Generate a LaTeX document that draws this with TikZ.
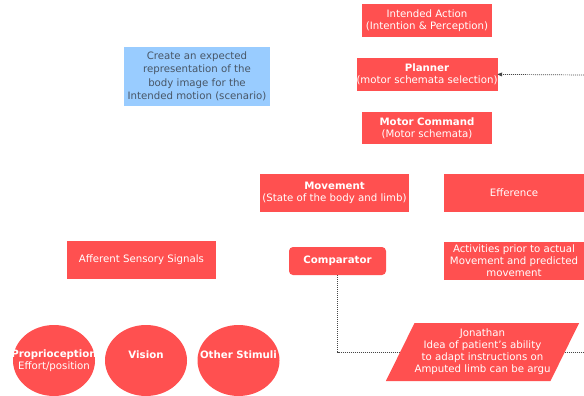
\documentclass[tikz,border=0pt]{standalone}
\usepackage{fontspec}
\setmainfont{DejaVu Sans}
\usepackage{tikz}
\usetikzlibrary{calc}
\usetikzlibrary{arrows,shapes,positioning}
\definecolor{boxred}{RGB}{255,80,80}
\definecolor{boxblue}{RGB}{153,204,255}
\definecolor{bluetext}{RGB}{72,86,102}
\definecolor{dotgray}{RGB}{70,70,70}

\begin{document}
\begin{tikzpicture}[x=1pt,y=-1pt,>=stealth',
    redbox/.style={fill=boxred,text=white,align=center,inner sep=0pt,
      font=\fontsize{10.2}{12}\selectfont},
    blob/.style={fill=boxred,ellipse,inner sep=0pt,minimum width=82pt,minimum height=71pt},
    blobtext/.style={text=white,align=center,inner sep=0pt,font=\fontsize{10.2}{12}\selectfont},
    dotline/.style={dotgray,dash pattern=on 1pt off 1pt,line width=.7pt}]

      \useasboundingbox (0,0) rectangle (584,396);

      % the column on the right
      \node[redbox,minimum width=130pt,minimum height=33pt] (act) at (427,21) {Intended Action\\(Intention \& Perception)};
      \node[redbox,minimum width=140pt,minimum height=33pt] (plan) [below=20pt of act] {\textbf{Planner}\\(motor schemata selection)};
      \node[redbox,minimum width=130pt,minimum height=32pt] (cmd) [below=21pt of plan] {\textbf{Motor Command}\\(Motor schemata)};

      \node[fill=boxblue,text=bluetext,align=center,inner sep=0pt,minimum width=146pt,minimum height=59pt,
        font=\fontsize{10.2}{13.5}\selectfont] (img) at (197,76.5) {Create an expected\\representation of the\\body image for the\\Intended motion (scenario)};

      \node[redbox,minimum width=149pt,minimum height=38pt] (mov) at (334.5,193) {\textbf{Movement}\\(State of the body and limb)};
      \node[redbox,minimum width=140pt,minimum height=38pt] (eff) at (514,193) {Efference};

      \node[redbox,minimum width=149pt,minimum height=38pt] (aff) at (141.5,260) {Afferent Sensory Signals};
      \node[redbox,rounded corners=4pt,minimum width=97pt,minimum height=28pt] (cmp) at (337.5,261) {\textbf{Comparator}};
      \node[redbox,minimum width=140pt,minimum height=38pt] (pre) at (514,261) {Activities prior to actual\\Movement and predicted\\movement};

      % the three senses
      \node[blob,label={[blobtext]center:{\textbf{Proprioception}\\Effort/position}}] (prop) at (54,360.5) {};
      \node[blob,label={[blobtext,yshift=6pt]center:\textbf{Vision}}] (vis) at (146,360.5) {};
      \node[blob,label={[blobtext,yshift=6pt]center:\textbf{Other Stimuli}}] (oth) at (238.5,360.5) {};

      \coordinate (ein) at (584,75);
      \coordinate (eout) at (584,352);
      \draw[dotline,->] (ein) -- (plan.east);
      \draw[dotline] (cmp.south) |- (eout);

      \node[redbox,trapezium,trapezium left angle=58,trapezium right angle=122,trapezium stretches=true,
        minimum width=191pt,minimum height=58pt] (jon) at (482.5,352) {Jonathan\\Idea of patient's ability\\to adapt instructions on\\Amputed limb can be argu};
\end{tikzpicture}
\end{document}
